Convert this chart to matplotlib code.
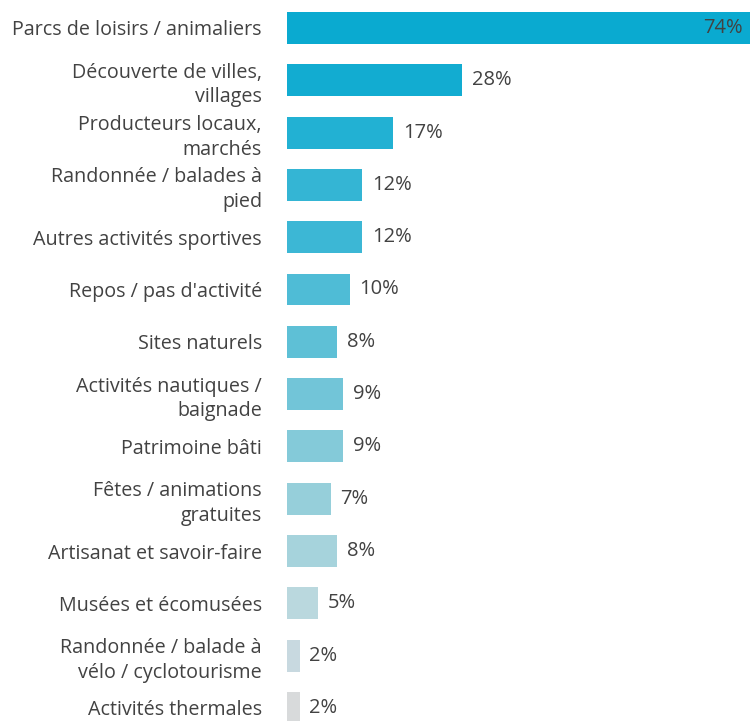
import matplotlib
matplotlib.use('Agg')
import matplotlib.pyplot as plt

# Chart data
LABELS = ["Parcs de loisirs / animaliers", "Découverte de villes,\nvillages",
          "Producteurs locaux,\nmarchés", "Randonnée / balades à\npied",
          "Autres activités sportives", "Repos / pas d'activité", "Sites naturels",
          "Activités nautiques /\nbaignade", "Patrimoine bâti",
          "Fêtes / animations\ngratuites", "Artisanat et savoir-faire",
          "Musées et écomusées", "Randonnée / balade à\nvélo / cyclotourisme",
          "Activités thermales"]
VALUES = [74, 28, 17, 12, 12, 10, 8, 9, 9, 7, 8, 5, 2, 2]
COLORS = ["#0aaad0", "#12acd1", "#22b1d3", "#34b5d4", "#3cb7d5", "#4fbcd6",
          "#5ec0d6", "#72c5d8", "#84cad9", "#96cfda", "#a6d3dc", "#bad8de",
          "#c8d9e0", "#d8dadb"]
TEXT_COLOR = "#424242"

plt.rcParams['font.family'] = ['Open Sans', 'DejaVu Sans']

fig = plt.figure(figsize=(7.52, 7.21), dpi=100)
ax = fig.add_axes([287 / 752, 0, 465 / 752, 1])

ypos = list(range(len(VALUES)))
ax.barh(ypos, VALUES, height=0.61, color=COLORS)

ax.set_xlim(0, 74.4)
ax.set_ylim(13.25, -0.535)

ax.set_yticks(ypos)
ax.set_yticklabels(LABELS, fontsize=14.2, color=TEXT_COLOR, linespacing=1.3)
ax.tick_params(axis='y', length=0, pad=18)
ax.tick_params(axis='x', bottom=False, labelbottom=False)
for s in ax.spines.values():
    s.set_visible(False)

for i, v in enumerate(VALUES):
    if i == 0:
        ax.annotate(f"{v}%", (v, i), xytext=(-5, 0), textcoords='offset points',
                    ha='right', va='center', fontsize=14.5, color=TEXT_COLOR)
    else:
        ax.annotate(f"{v}%", (v, i), xytext=(7, 0), textcoords='offset points',
                    ha='left', va='center', fontsize=14.5, color=TEXT_COLOR)

fig.savefig("out.png", dpi=100)
